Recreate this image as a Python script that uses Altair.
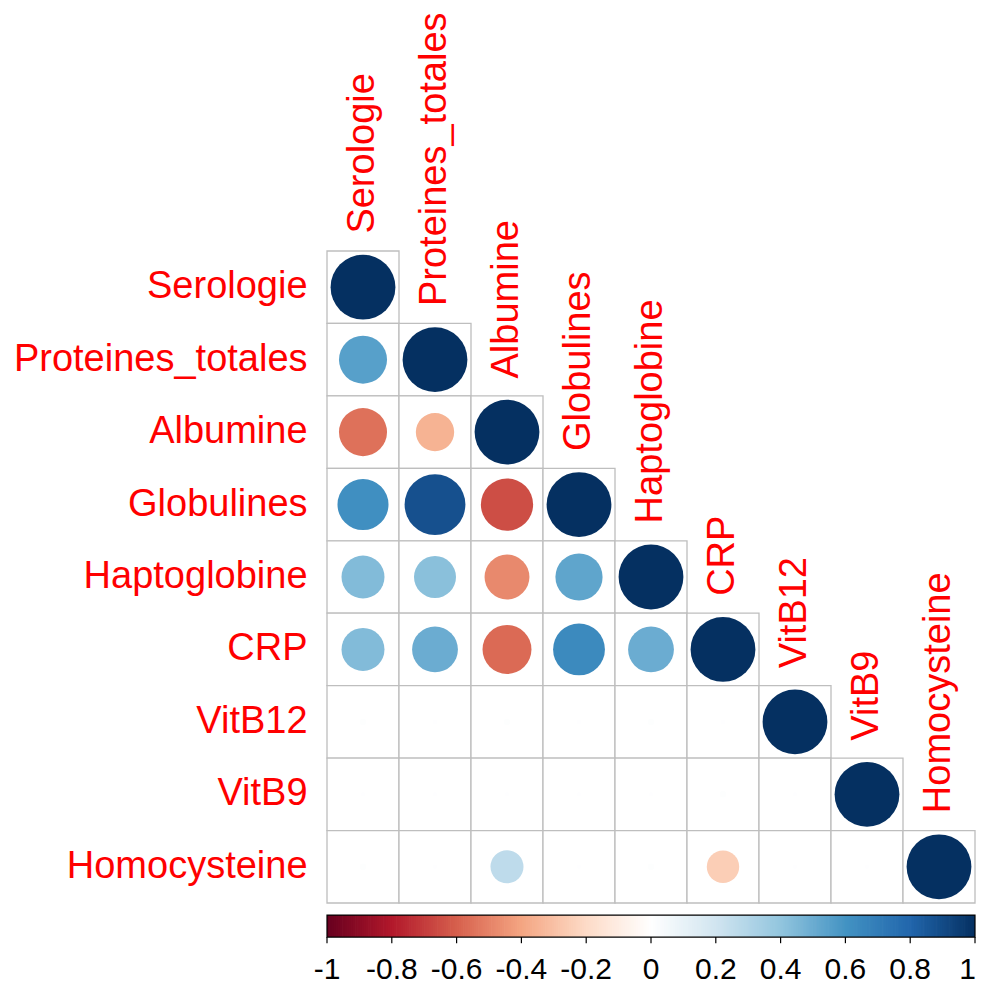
import altair as alt
import pandas as pd
import numpy as np

# ---- data ----
names = ["Serologie", "Proteines_totales", "Albumine", "Globulines",
         "Haptoglobine", "CRP", "VitB12", "VitB9", "Homocysteine"]

# lower-triangle correlation rows (row i has i+1 values, columns 0..i)
row_serologie    = [1.0]
row_proteines    = [0.55, 1.0]
row_albumine     = [-0.55, -0.35, 1.0]
row_globulines   = [0.62, 0.88, -0.65, 1.0]
row_haptoglobine = [0.44, 0.42, -0.48, 0.53, 1.0]
row_crp          = [0.44, 0.50, -0.57, 0.64, 0.50, 1.0]
row_vitb12       = [0.01, 0.005, 0.01, 0.005, 0.01, 0.005, 1.0]
row_vitb9        = [0.005, 0.005, 0.005, 0.005, 0.005, 0.01, 0.005, 1.0]
row_homocyst     = [0.01, 0.005, 0.26, 0.005, 0.01, -0.25, 0.005, 0.005, 1.0]
rows = [row_serologie, row_proteines, row_albumine, row_globulines,
        row_haptoglobine, row_crp, row_vitb12, row_vitb9, row_homocyst]

legend_ticks = [-1, -0.8, -0.6, -0.4, -0.2, 0, 0.2, 0.4, 0.6, 0.8, 1]
legend_labels = ["-1", "-0.8", "-0.6", "-0.4", "-0.2", "0", "0.2", "0.4", "0.6", "0.8", "1"]

palette = ["#67001F", "#B2182B", "#D6604D", "#F4A582", "#FDDBC7", "#FFFFFF",
           "#D1E5F0", "#92C5DE", "#4393C3", "#2166AC", "#053061"]

W, H = 648, 652
CELL_W = W / 9

# ---- tables built from the arrays ----
cells = []
for i, row in enumerate(rows):
    for j, v in enumerate(row):
        cells.append({"row": names[i], "col": names[j],
                      "xc": j + 0.5, "yc": i + 0.5,
                      "x0": j, "x1": j + 1, "y0": i, "y1": i + 1,
                      "r": v, "absr": abs(v)})
cells = pd.DataFrame(cells)

row_lab = pd.DataFrame({"label": names, "x": [-0.27] * 9,
                        "y": [i + 0.5 for i in range(9)]})
col_lab = pd.DataFrame({"label": names, "x": [j + 0.5 for j in range(9)],
                        "y": [j - 0.24 for j in range(9)]})

n = 300
edges = np.linspace(-1, 1, n + 1)
stripes = pd.DataFrame({
    "v": (edges[:-1] + edges[1:]) / 2,
    "x0": (edges[:-1] + 1) * 4.5,
    "x1": (edges[1:] + 1) * 4.5 + 0.01,
})
stripes.loc[stripes.index[-1], "x1"] = 9.0
CB_TOP, CB_BOT, TICK_END, LAB_Y = 9.166, 9.47, 9.555, 10.043
stripes["y0"] = CB_TOP
stripes["y1"] = CB_BOT

ticks = pd.DataFrame({"v": legend_ticks, "label": legend_labels})
ticks["x"] = (ticks["v"] + 1) * 4.5
ticks["y0"] = CB_BOT
ticks["y1"] = TICK_END
ticks["ly"] = LAB_Y
ticks["last"] = ticks["v"] >= 1
border = pd.DataFrame({"x0": [0], "x1": [9], "y0": [CB_TOP], "y1": [CB_BOT]})

# ---- scales ----
XS = alt.Scale(domain=[0, 9], nice=False, zero=False)
YS = alt.Scale(domain=[0, 9], nice=False, zero=False, reverse=True)
CS = alt.Scale(domain=legend_ticks, range=palette, interpolate="rgb")
FULL_SIZE = (CELL_W * 0.9) ** 2   # vega circle: diameter = sqrt(size)
SS = alt.Scale(domain=[0, 1], range=[0, FULL_SIZE], zero=True)

grid = alt.Chart(cells).mark_rect(fill="white", stroke="#BEBEBE", strokeWidth=1.3).encode(
    x=alt.X("x0:Q", scale=XS, axis=None), x2="x1:Q",
    y=alt.Y("y0:Q", scale=YS, axis=None), y2="y1:Q",
)

circles = alt.Chart(cells).mark_circle(opacity=1).encode(
    x=alt.X("xc:Q", scale=XS, axis=None),
    y=alt.Y("yc:Q", scale=YS, axis=None),
    size=alt.Size("absr:Q", scale=SS, legend=None),
    color=alt.Color("r:Q", scale=CS, legend=None),
    tooltip=["row:N", "col:N", "r:Q"],
)

rlabels = alt.Chart(row_lab).mark_text(
    align="right", baseline="middle", font="Liberation Sans", fontSize=38, color="#FF0000"
).encode(x=alt.X("x:Q", scale=XS, axis=None), y=alt.Y("y:Q", scale=YS, axis=None), text="label:N")

clabels = alt.Chart(col_lab).mark_text(
    align="left", baseline="middle", angle=270, font="Liberation Sans", fontSize=38, color="#FF0000"
).encode(x=alt.X("x:Q", scale=XS, axis=None), y=alt.Y("y:Q", scale=YS, axis=None), text="label:N")

cbar = alt.Chart(stripes).mark_rect(strokeWidth=0).encode(
    x=alt.X("x0:Q", scale=XS, axis=None), x2="x1:Q",
    y=alt.Y("y0:Q", scale=YS, axis=None), y2="y1:Q",
    color=alt.Color("v:Q", scale=CS, legend=None),
)
cborder = alt.Chart(border).mark_rect(fillOpacity=0, stroke="black", strokeWidth=1.2).encode(
    x=alt.X("x0:Q", scale=XS, axis=None), x2="x1:Q",
    y=alt.Y("y0:Q", scale=YS, axis=None), y2="y1:Q",
)
cticks = alt.Chart(ticks).mark_rule(color="black", strokeWidth=1.2).encode(
    x=alt.X("x:Q", scale=XS, axis=None),
    y=alt.Y("y0:Q", scale=YS, axis=None), y2="y1:Q",
)
ctext = alt.Chart(ticks).transform_filter("!datum.last").mark_text(
    align="center", baseline="alphabetic", font="Liberation Sans", fontSize=30, color="black"
).encode(x=alt.X("x:Q", scale=XS, axis=None), y=alt.Y("ly:Q", scale=YS, axis=None), text="label:N")
ctext_last = alt.Chart(ticks).transform_filter("datum.last").mark_text(
    align="right", baseline="alphabetic", font="Liberation Sans", fontSize=30, color="black", dx=1
).encode(x=alt.X("x:Q", scale=XS, axis=None), y=alt.Y("ly:Q", scale=YS, axis=None), text="label:N")

chart = alt.layer(grid, circles, rlabels, clabels, cbar, cborder, cticks, ctext, ctext_last).properties(
    width=W, height=H,
    autosize=alt.AutoSizeParams(type="none"),
    padding={"left": 319, "top": 243, "right": 1, "bottom": 82},
).configure_view(stroke=None)

chart.save("out.html", embed_options={"renderer": "svg", "actions": False})
